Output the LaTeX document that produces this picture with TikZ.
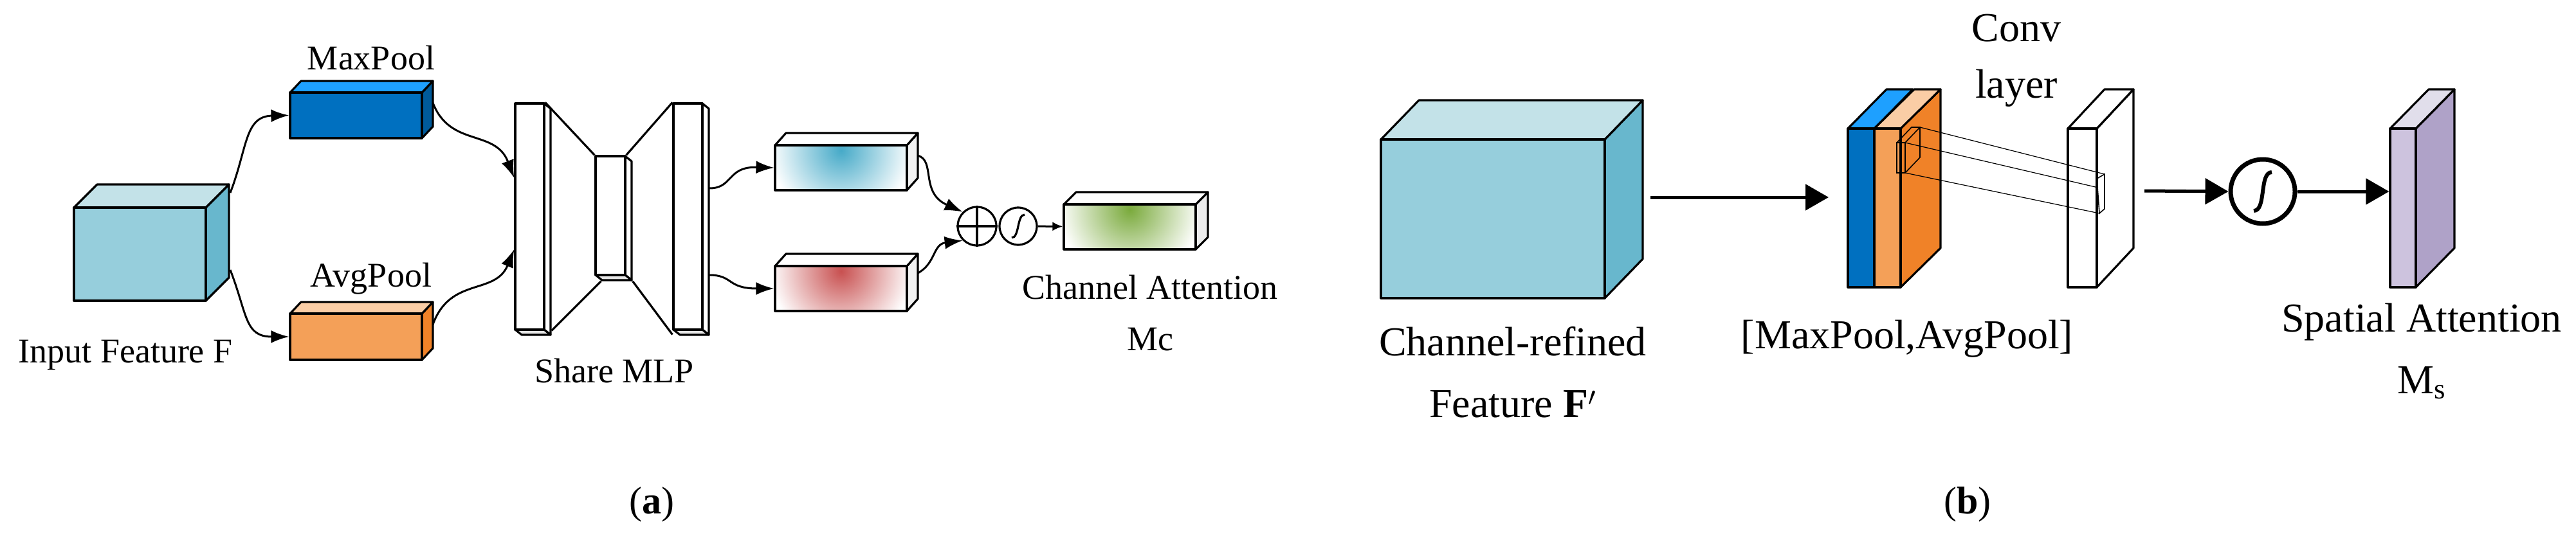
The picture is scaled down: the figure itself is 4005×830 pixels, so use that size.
\documentclass[tikz,border=0pt]{standalone}
\usepackage{fontspec}
\setmainfont{Liberation Serif}
\usetikzlibrary{arrows.meta,fit}
\definecolor{cubeF}{RGB}{150,206,220}\definecolor{cubeT}{RGB}{195,226,232}\definecolor{cubeS}{RGB}{104,183,205}
\definecolor{maxF}{RGB}{0,112,192}\definecolor{maxT}{RGB}{30,160,255}
\definecolor{avgF}{RGB}{244,160,88}\definecolor{avgT}{RGB}{250,205,165}\definecolor{avgS}{RGB}{240,130,40}
\definecolor{purF}{RGB}{205,195,222}\definecolor{purT}{RGB}{225,222,235}\definecolor{purS}{RGB}{175,162,200}
\definecolor{gB}{RGB}{70,170,200}\definecolor{gR}{RGB}{200,80,80}\definecolor{gG}{RGB}{122,170,60}
\tikzset{
 ol/.style={draw=black,line width=1.6pt,line join=round},
 conn/.style={line width=1.5pt,-{Latex[length=14pt,width=10pt]}},
 bigarr/.style={line width=2.5pt,-{Triangle[length=18pt,width=20pt]}},
 lbl/.style={font=\fontsize{27}{32}\selectfont,align=center,inner sep=0},
 lblb/.style={font=\fontsize{32}{38}\selectfont,align=center,inner sep=0},
 grad/.style={path picture={\shade[inner color=#1,outer color=white] ([yshift=-4pt]path picture bounding box.north) circle (55pt);}},
}
% name, x1,y1,x2,y2 (front face), dx,dy, front, top, side
\newcommand\mycube[9]{%
 \fill[#9,ol] (#4,#3) -- ({#4+#6},{#3-#7}) -- ({#4+#6},{#5-#7}) -- (#4,#5) -- cycle;
 \fill[#8,ol] (#2,#3) -- ({#2+#6},{#3-#7}) -- ({#4+#6},{#3-#7}) -- (#4,#3) -- cycle;
 \coordinate (#1-nw) at (#2,#3); \coordinate (#1-se) at (#4,#5);
}
\begin{document}
\begin{tikzpicture}[x=0.5pt,y=-0.5pt]
\useasboundingbox (0,0) rectangle (4005,830);
% ---------- (a) ----------
\mycube{inp}{115}{323}{320}{468}{36}{36}{cubeT}{cubeS}
\node[fit=(inp-nw)(inp-se),inner sep=0,ol,fill=cubeF] (inp) {};
\mycube{mx}{451}{144}{656}{215}{17}{18}{maxT}{maxF!80!black}
\node[fit=(mx-nw)(mx-se),inner sep=0,ol,fill=maxF] (mx) {};
\mycube{av}{451}{488}{656}{560}{17}{18}{avgT}{avgS}
\node[fit=(av-nw)(av-se),inner sep=0,ol,fill=avgF] (av) {};
\node[lbl] (tmx) at (577,90) {MaxPool};
\node[lbl] (tav) at (577,434) {AvgPool};
\node[lbl] (tin) at (195,553) {Input Feature F};
% MLP slabs
\foreach \n/\a/\b/\c/\d in {s1/801/161/846/513, s2/926/243/972/428, s3/1047/161/1092/513}{
 \fill[white,ol] (\c,\b) -- (\c+10,\b+8) -- (\c+10,\d+8) -- (\c,\d) -- cycle;
 \fill[gray!20,ol] (\a,\d) -- (\c,\d) -- (\c+10,\d+8) -- (\a+10,\d+8) -- cycle;
 \coordinate (\n-nw) at (\a,\b); \coordinate (\n-se) at (\c,\d);
 \node[fit=(\n-nw)(\n-se),inner sep=0,ol,fill=white] (\n) {};
}
\draw[ol] (s1.north east) -- (s2.north west);
\draw[ol] ([xshift=5pt]s1.south east) -- ([xshift=5pt,yshift=-4pt]s2.south west);
\draw[ol] (s2.north east) -- (s3.north west);
\draw[ol] ([xshift=5pt,yshift=-4pt]s2.south east) -- ([yshift=-3pt]s3.south west);
\node[lbl] (tmlp) at (955,577) {Share MLP};
% outputs
\mycube{ob}{1205}{226}{1410}{296}{17}{19}{white}{gray!10}
\node[fit=(ob-nw)(ob-se),inner sep=0,ol,grad=gB] (ob) {};
\mycube{or}{1205}{414}{1410}{484}{17}{19}{white}{gray!10}
\node[fit=(or-nw)(or-se),inner sep=0,ol,grad=gR] (or) {};
\mycube{og}{1654}{318}{1859}{388}{19}{19}{white}{gray!15}
\node[fit=(og-nw)(og-se),inner sep=0,ol,grad=gG] (og) {};
\node[circle,ol,minimum size=30pt,inner sep=0] (plus) at (1519,352) {};
\draw[line width=1.6pt] (plus.north)--(plus.south) (plus.west)--(plus.east);
\node[circle,ol,minimum size=29pt,inner sep=0] (sig) at (1583,352) {};
\draw[line width=1.6pt] ([shift={(-5pt,-9pt)}]sig.center) .. controls +(6pt,0) and +(-6pt,0) .. ([shift={(5pt,9pt)}]sig.center);
\draw[line width=1.5pt,-{Latex[length=8pt,width=7pt]}] (sig) -- (og);
\node[lbl,anchor=north] (tca) at (1788,428) {Channel Attention\\[8pt]Mc};
\node[font=\fontsize{30}{36}\selectfont] (ta) at (1013,785) {(\textbf{a})};
% connectors (a)
\coordinate (i1) at (358,300); \coordinate (i2) at (358,420);
\draw[conn] (i1) .. controls (385,230) and (380,181) .. (mx.west);
\draw[conn] (i2) .. controls (385,490) and (380,524) .. (av.west);
\coordinate (m1) at (673,160); \coordinate (a1) at (673,505);
\draw[conn] (m1) .. controls (700,230) and (770,200) .. (s1.west |- 0,277);
\draw[conn] (a1) .. controls (700,430) and (770,460) .. (s1.west |- 0,388);
\coordinate (p1) at (1103,293); \coordinate (p2) at (1103,428);
\draw[conn] (p1) .. controls (1140,293) and (1130,259) .. (ob.west);
\draw[conn] (p2) .. controls (1140,428) and (1130,449) .. (or.west);
\coordinate (q1) at (1427,242); \coordinate (q2) at (1427,425);
\draw[conn] (q1) .. controls (1455,250) and (1430,300) .. (plus.north west);
\draw[conn] (q2) .. controls (1455,410) and (1450,380) .. (plus.south west);
% ---------- (b) ----------
\mycube{cr}{2147}{217}{2495}{464}{59}{61}{cubeT}{cubeS}
\node[fit=(cr-nw)(cr-se),inner sep=0,ol,fill=cubeF] (cr) {};
\node[lblb,anchor=north] (tcr) at (2352,508) {Channel-refined\\[10pt]Feature $\mathbf{F}'$};
% stacked slabs
\fill[maxT,ol] (2873,200) -- (2933,139) -- (2974,139) -- (2914,200) -- cycle;
\coordinate (bl-nw) at (2873,200); \coordinate (bl-se) at (2914,447);
\node[fit=(bl-nw)(bl-se),inner sep=0,ol,fill=maxF] (bl) {};
\mycube{og2}{2914}{200}{2955}{447}{62}{61}{avgT}{avgS}
\node[fit=(og2-nw)(og2-se),inner sep=0,ol,fill=avgF] (orr) {};
% kernel
\draw[line width=0.8pt] (2949,222) rectangle (2962,269);
\draw[line width=0.8pt] (2949,222) -- (2972,198) -- (2985,198) -- (2985,245) -- (2962,269) (2962,222) -- (2985,198);
\mycube{cv}{3215}{200}{3260}{447}{57}{61}{white}{white}
\node[fit=(cv-nw)(cv-se),inner sep=0,ol,fill=white] (cv) {};
\coordinate (k1) at (2985,198); \coordinate (k2) at (2962,222); \coordinate (k3) at (2962,269);
\coordinate (t1) at (3272,271); \coordinate (t2) at (3262,292); \coordinate (t3) at (3264,332);
\draw[line width=0.8pt] (3260,278) -- (3272,271) -- (3272,325) -- (3264,332) -- cycle;
\draw[line width=0.6pt] (k1) -- (t1) (k2) -- (t2) (k3) -- (t3);
\node[lblb,anchor=north] (tcv) at (3135,22) {Conv\\[6pt]layer};
\node[lblb] (tmp) at (2965,527) {[MaxPool,AvgPool]};
\node[circle,draw,line width=3.5pt,minimum size=50pt,inner sep=0] (sg) at (3518,298) {};
\draw[line width=3pt] ([shift={(-7pt,-15pt)}]sg.center) .. controls +(10pt,0) and +(-10pt,0) .. ([shift={(7pt,15pt)}]sg.center);
\mycube{pu}{3716}{200}{3756}{447}{60}{61}{purT}{purS}
\node[fit=(pu-nw)(pu-se),inner sep=0,ol,fill=purF] (pu) {};
\node[lblb,anchor=north] (tsa) at (3765,472) {Spatial Attention\\[10pt]M\textsubscript{s}};
\coordinate (a0) at (2566,307);
\draw[bigarr] (a0) -- (2843,307);
\coordinate (c0) at (3334,297);
\draw[bigarr] (c0) -- (sg.west);
\draw[bigarr] (sg.east) -- (pu.west |- sg.east);
\node[font=\fontsize{30}{36}\selectfont] (tb) at (3059,785) {(\textbf{b})};
\end{tikzpicture}
\end{document}
